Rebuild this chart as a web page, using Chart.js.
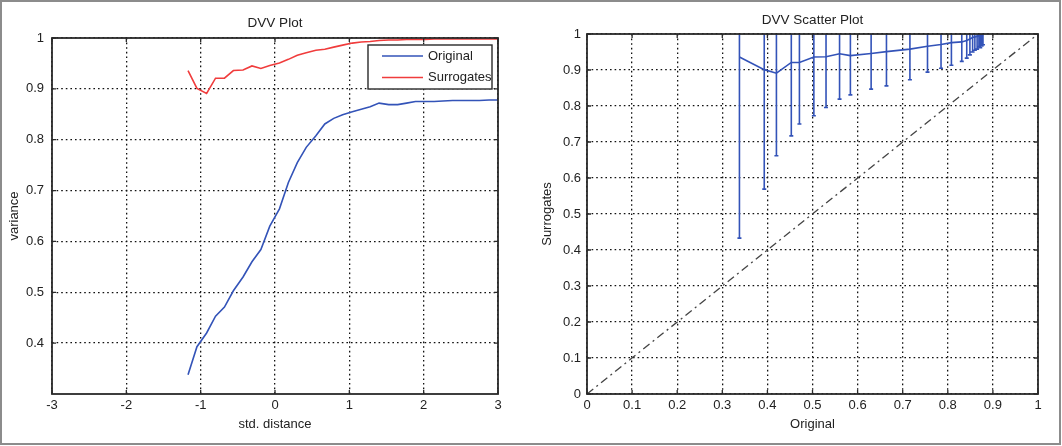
<!DOCTYPE html>
<html>
<head>
<meta charset="utf-8">
<script src="https://cdn.jsdelivr.net/npm/chart.js@4"></script>
<style>
  html, body { margin: 0; padding: 0; background: #fff; }
  #wrap { position: relative; width: 1062px; height: 446px; overflow: hidden; }
  canvas { position: absolute; top: 0; }
  #frame { position: absolute; left: 0; top: 0; width: 1061px; height: 445px; border: 2px solid #8c8c8c; box-sizing: border-box; pointer-events: none; }
</style>
</head>
<body>
<div id="wrap">
  <canvas id="left" width="531" height="446" style="left:0"></canvas>
  <canvas id="right" width="531" height="446" style="left:531px"></canvas>
  <div id="frame"></div>
</div>
<script>
// std. distance values and the variance curves
const stdDist = [-1.17, -1.05, -0.92, -0.80, -0.68, -0.56, -0.43, -0.31, -0.19, -0.07,
  0.06, 0.18, 0.30, 0.42, 0.55, 0.67, 0.79, 0.91, 1.04, 1.16,
  1.28, 1.40, 1.53, 1.65, 1.77, 1.89, 2.02, 2.14, 2.26, 2.39,
  2.51, 2.63, 2.75, 2.88, 3.00];
const original = [0.338, 0.393, 0.420, 0.453, 0.471, 0.503, 0.530, 0.560, 0.584, 0.630,
  0.664, 0.716, 0.755, 0.785, 0.808, 0.831, 0.842, 0.849, 0.855, 0.860,
  0.865, 0.872, 0.869, 0.869, 0.872, 0.875, 0.875, 0.875, 0.876, 0.877,
  0.877, 0.877, 0.877, 0.878, 0.878];
const surrogates = [0.936, 0.901, 0.891, 0.921, 0.921, 0.936, 0.937, 0.945, 0.940, 0.946,
  0.951, 0.958, 0.966, 0.971, 0.976, 0.978, 0.982, 0.986, 0.990, 0.992,
  0.993, 0.995, 0.996, 0.996, 0.997, 0.997, 0.997, 0.998, 0.998, 0.998,
  0.998, 0.998, 0.998, 0.998, 0.998];
// half width of the surrogate error bars (scatter plot)
const surrErr = [0.503, 0.332, 0.229, 0.204, 0.171, 0.163, 0.141, 0.126, 0.109, 0.099,
  0.095, 0.085, 0.072, 0.066, 0.063, 0.054, 0.049, 0.044, 0.040, 0.037,
  0.035, 0.033, 0.032, 0.031, 0.030, 0.030, 0.029, 0.029, 0.028, 0.028,
  0.028, 0.028, 0.028, 0.028, 0.028];
const diagX = [0, 1];
const diagY = [0, 1];

const leftXTicks = [-3, -2, -1, 0, 1, 2, 3];
const leftYTicks = [0.4, 0.5, 0.6, 0.7, 0.8, 0.9, 1];
const unitTicks = [0, 0.1, 0.2, 0.3, 0.4, 0.5, 0.6, 0.7, 0.8, 0.9, 1];

const family = "'Liberation Sans', Arial, sans-serif";
const ink = '#222';
const blue = '#3353b8';
const red = '#f03c3c';

// plot box with small inward ticks, matlab style
const frame = {
  id: 'frame',
  afterDatasetsDraw(chart) {
    const { ctx, chartArea: a, scales } = chart;
    ctx.save();
    ctx.strokeStyle = '#2a2a2a';
    ctx.lineWidth = 1.3;
    ctx.beginPath();
    scales.x.ticks.forEach(t => {
      const px = scales.x.getPixelForValue(t.value);
      ctx.moveTo(px, a.bottom); ctx.lineTo(px, a.bottom - 4);
      ctx.moveTo(px, a.top); ctx.lineTo(px, a.top + 4);
    });
    scales.y.ticks.forEach(t => {
      const py = scales.y.getPixelForValue(t.value);
      ctx.moveTo(a.left, py); ctx.lineTo(a.left + 4, py);
      ctx.moveTo(a.right, py); ctx.lineTo(a.right - 4, py);
    });
    ctx.stroke();
    ctx.lineWidth = 1.8;
    ctx.strokeRect(a.left, a.top, a.right - a.left, a.bottom - a.top);
    ctx.restore();
  }
};

const legendBox = {
  id: 'legendBox',
  afterDraw(chart) {
    const { ctx, chartArea: a } = chart;
    const w = 124, h = 44, x = a.right - 6 - w, y = a.top + 7;
    ctx.save();
    ctx.fillStyle = '#fff';
    ctx.fillRect(x, y, w, h);
    ctx.strokeStyle = '#2a2a2a';
    ctx.lineWidth = 1.4;
    ctx.strokeRect(x, y, w, h);
    ctx.font = '13px ' + family;
    ctx.textBaseline = 'middle';
    chart.data.datasets.forEach((ds, i) => {
      const cy = y + 11 + i * 21.5;
      ctx.strokeStyle = ds.borderColor;
      ctx.lineWidth = 1.6;
      ctx.beginPath(); ctx.moveTo(x + 14, cy); ctx.lineTo(x + 55, cy); ctx.stroke();
      ctx.fillStyle = ink;
      ctx.fillText(ds.label, x + 60, cy);
    });
    ctx.restore();
  }
};

const errorBars = {
  id: 'errorBars',
  afterDatasetsDraw(chart) {
    const { ctx, chartArea: a, scales: { x, y } } = chart;
    ctx.save();
    ctx.beginPath();
    ctx.rect(a.left, a.top, a.right - a.left, a.bottom - a.top);
    ctx.clip();
    ctx.strokeStyle = blue;
    ctx.lineWidth = 1.6;
    ctx.beginPath();
    original.forEach((o, i) => {
      const px = x.getPixelForValue(o);
      const lo = y.getPixelForValue(surrogates[i] - surrErr[i]);
      const hi = y.getPixelForValue(surrogates[i] + surrErr[i]);
      ctx.moveTo(px, lo); ctx.lineTo(px, hi);
      ctx.moveTo(px - 2, lo); ctx.lineTo(px + 2, lo);
      ctx.moveTo(px - 2, hi); ctx.lineTo(px + 2, hi);
    });
    ctx.stroke();
    ctx.restore();
  }
};

function axis(opts) {
  return {
    type: 'linear',
    min: opts.min,
    max: opts.max,
    afterBuildTicks: s => { s.ticks = opts.ticks.map(v => ({ value: v })); },
    afterFit: s => { if (opts.horizontal) s.height = opts.size; else s.width = opts.size; },
    grid: { color: '#111', lineWidth: 1.3, drawTicks: false },
    border: { display: false, dash: [1.6, 3] },
    ticks: { color: ink, padding: opts.pad, font: { family, size: 13 }, callback: v => String(v), autoSkip: false, maxRotation: 0 },
    title: { display: true, text: opts.title, color: ink, font: { family, size: 13 }, padding: opts.titlePad }
  };
}

new Chart(document.getElementById('left'), {
  type: 'line',
  data: {
    datasets: [
      { label: 'Original', data: stdDist.map((x, i) => ({ x, y: original[i] })), borderColor: blue, borderWidth: 1.6, pointRadius: 0, tension: 0 },
      { label: 'Surrogates', data: stdDist.map((x, i) => ({ x, y: surrogates[i] })), borderColor: red, borderWidth: 1.6, pointRadius: 0, tension: 0 }
    ]
  },
  options: {
    responsive: false,
    animation: false,
    layout: { padding: { left: 0, right: 33, top: 0, bottom: 0 } },
    plugins: {
      legend: { display: false },
      tooltip: { enabled: false },
      title: { display: true, text: 'DVV Plot', fullSize: false, color: ink, font: { family, size: 13.5, weight: 'normal' }, padding: { top: 15, bottom: 6.8 } }
    },
    scales: {
      x: axis({ min: -3, max: 3, ticks: leftXTicks, horizontal: true, size: 52, pad: 4, title: 'std. distance', titlePad: { top: 0, bottom: 14 } }),
      y: axis({ min: 0.3, max: 1, ticks: leftYTicks, horizontal: false, size: 52, pad: 8, title: 'variance', titlePad: { top: 7, bottom: 0 } })
    }
  },
  plugins: [frame, legendBox]
});

new Chart(document.getElementById('right'), {
  type: 'scatter',
  data: {
    datasets: [
      { label: 'DVV', data: original.map((x, i) => ({ x, y: surrogates[i] })), showLine: true, borderColor: blue, borderWidth: 1.6, pointRadius: 0 },
      { label: 'diag', data: diagX.map((x, i) => ({ x, y: diagY[i] })), showLine: true, borderColor: '#444', borderWidth: 1.3, borderDash: [8, 4, 2, 4], pointRadius: 0 }
    ]
  },
  options: {
    responsive: false,
    animation: false,
    layout: { padding: { left: 0, right: 24, top: 0, bottom: 0 } },
    plugins: {
      legend: { display: false },
      tooltip: { enabled: false },
      title: { display: true, text: 'DVV Scatter Plot', fullSize: false, color: ink, font: { family, size: 13.5, weight: 'normal' }, padding: { top: 12, bottom: 5.8 } }
    },
    scales: {
      x: axis({ min: 0, max: 1, ticks: unitTicks, horizontal: true, size: 52, pad: 4, title: 'Original', titlePad: { top: 0, bottom: 14 } }),
      y: axis({ min: 0, max: 1, ticks: unitTicks, horizontal: false, size: 56, pad: 6, title: 'Surrogates', titlePad: { top: 9, bottom: 0 } })
    }
  },
  plugins: [errorBars, frame]
});
</script>
</body>
</html>
